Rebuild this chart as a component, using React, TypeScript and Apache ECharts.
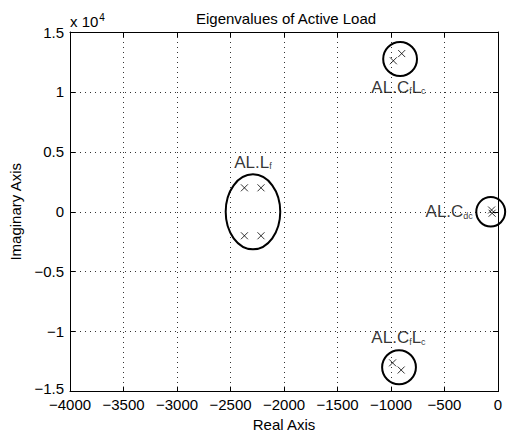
import React, { useEffect, useRef } from "react";
import * as echarts from "echarts";

const FONT = "'Liberation Sans', Arial, Helvetica, sans-serif";

// Eigenvalues [real, imag]
const eigLf: number[][] = [
  [-2370, 2000],
  [-2215, 2000],
  [-2370, -2000],
  [-2215, -2000],
];
const eigCfLc: number[][] = [
  [-978, 12600],
  [-900, 13200],
  [-985, -12600],
  [-905, -13200],
];
const eigCdc: number[][] = [
  [-60, 150],
  [-55, -120],
];

// Grouping outlines [centerX, centerY, radiusX, radiusY] in data units
const outlines: number[][] = [
  [-2290, 0, 255, 3125],
  [-915, 12750, 158, 1420],
  [-925, -12970, 158, 1420],
  [-68, 0, 135, 1230],
];

// Annotation labels [x, y]
const labelPos: number[][] = [
  [-2290, 4150],
  [-930, 10400],
  [-930, -10500],
  [-235, 0],
];
const labelText: string[] = [
  "AL.L{s|f}",
  "AL.C{s|f}L{s|c}",
  "AL.C{s|f}L{s|c}",
  "AL.C{s|dc}",
];
const labelAlign: string[] = ["center", "center", "center", "right"];

const xTicks = { min: -4000, max: 0, interval: 500 };
const yTicks = { min: -15000, max: 15000, interval: 5000 };

const minus = (s: string) => s.replace("-", "\u2212");

export default function App() {
  const ref = useRef<HTMLDivElement>(null);
  useEffect(() => {
    document.body.style.margin = "0";
    if (!ref.current) return;
    const chart = echarts.init(ref.current, undefined, { renderer: "svg" });
    const xMark = "path://M0,0L10,10M10,0L0,10";
    const markerSeries = (data: number[][]) => ({
      type: "scatter",
      data,
      symbol: xMark,
      symbolSize: 7,
      itemStyle: { color: "none", borderColor: "#000", borderWidth: 1 },
      silent: true,
      z: 5,
    });
    const axisCommon = {
      axisLine: { show: true, onZero: false, lineStyle: { color: "#000", width: 1 } },
      axisTick: { show: true, inside: true, length: 5, lineStyle: { color: "#000" } },
    };
    chart.setOption({
      animation: false,
      backgroundColor: "#fff",
      textStyle: { fontFamily: FONT },
      title: {
        text: "Eigenvalues of Active Load",
        left: 191,
        top: 6,
        textStyle: { fontFamily: FONT, fontSize: 15, fontWeight: "normal", color: "#000" },
      },
      grid: { left: 70, right: 12, top: 32, bottom: 45, containLabel: false },
      xAxis: [
        {
          type: "value",
          ...xTicks,
          position: "bottom",
          ...axisCommon,
          name: "Real Axis",
          nameLocation: "middle",
          nameGap: 18,
          nameTextStyle: { fontFamily: FONT, fontSize: 15, color: "#000" },
          axisLabel: {
            margin: 7,
            fontFamily: FONT,
            fontSize: 15,
            lineHeight: 12,
            color: "#000",
            formatter: (v: number) => minus(String(v)),
          },
          splitLine: { show: true, lineStyle: { color: "#333", type: [1, 4], width: 1 } },
        },
        {
          type: "value",
          ...xTicks,
          position: "top",
          ...axisCommon,
          axisLabel: { show: false },
          splitLine: { show: false },
        },
      ],
      yAxis: [
        {
          type: "value",
          ...yTicks,
          position: "left",
          ...axisCommon,
          name: "Imaginary Axis",
          nameLocation: "middle",
          nameGap: 40,
          nameTextStyle: { fontFamily: FONT, fontSize: 15, color: "#000" },
          axisLabel: {
            margin: 6,
            fontFamily: FONT,
            fontSize: 15,
            lineHeight: 12,
            color: "#000",
            formatter: (v: number) =>
              v === yTicks.min ? "{b|" + minus(String(v / 10000)) + "}" : minus(String(v / 10000)),
            rich: {
              b: { fontFamily: FONT, fontSize: 15, lineHeight: 12, color: "#000", padding: [0, 0, 6, 0] },
            },
          },
          splitLine: { show: true, lineStyle: { color: "#333", type: [1, 4], width: 1 } },
        },
        {
          type: "value",
          ...yTicks,
          position: "right",
          ...axisCommon,
          axisLabel: { show: false },
          splitLine: { show: false },
        },
      ],
      graphic: [
        {
          type: "text",
          x: 70,
          y: 12,
          style: {
            text: "x 10{sup|4}",
            fontFamily: FONT,
            fontSize: 15,
            fill: "#000",
            rich: {
              sup: { fontSize: 10, fontFamily: FONT, verticalAlign: "top", padding: [0, 0, 8, 1] },
            },
          },
        },
      ],
      series: [
        {
          type: "custom",
          data: outlines,
          silent: true,
          clip: false,
          z: 4,
          renderItem: (_p: any, api: any) => {
            const c = api.coord([api.value(0), api.value(1)]);
            const s = api.size([api.value(2), api.value(3)]);
            return {
              type: "ellipse",
              shape: { cx: c[0], cy: c[1], rx: s[0], ry: s[1] },
              style: { fill: "none", stroke: "#000", lineWidth: 2 },
            };
          },
        },
        markerSeries(eigLf),
        markerSeries(eigCfLc),
        markerSeries(eigCdc),
        {
          type: "scatter",
          symbol: "circle",
          symbolSize: 2,
          itemStyle: { color: "rgba(0,0,0,0)" },
          silent: true,
          z: 6,
          data: labelPos.map((p, i) => ({
            value: p,
            label: {
              show: true,
              position: "inside",
              align: labelAlign[i],
              verticalAlign: "middle",
              formatter: labelText[i],
              fontFamily: FONT,
              fontSize: 17,
              color: "#000",
              rich: {
                s: { fontSize: 9, fontFamily: FONT, color: "#000", verticalAlign: "bottom", padding: [8, 0, 0, 0] },
              },
            },
          })),
        },
      ],
    });
    return () => chart.dispose();
  }, []);
  return <div ref={ref} style={{ width: 510, height: 437 }} />;
}
